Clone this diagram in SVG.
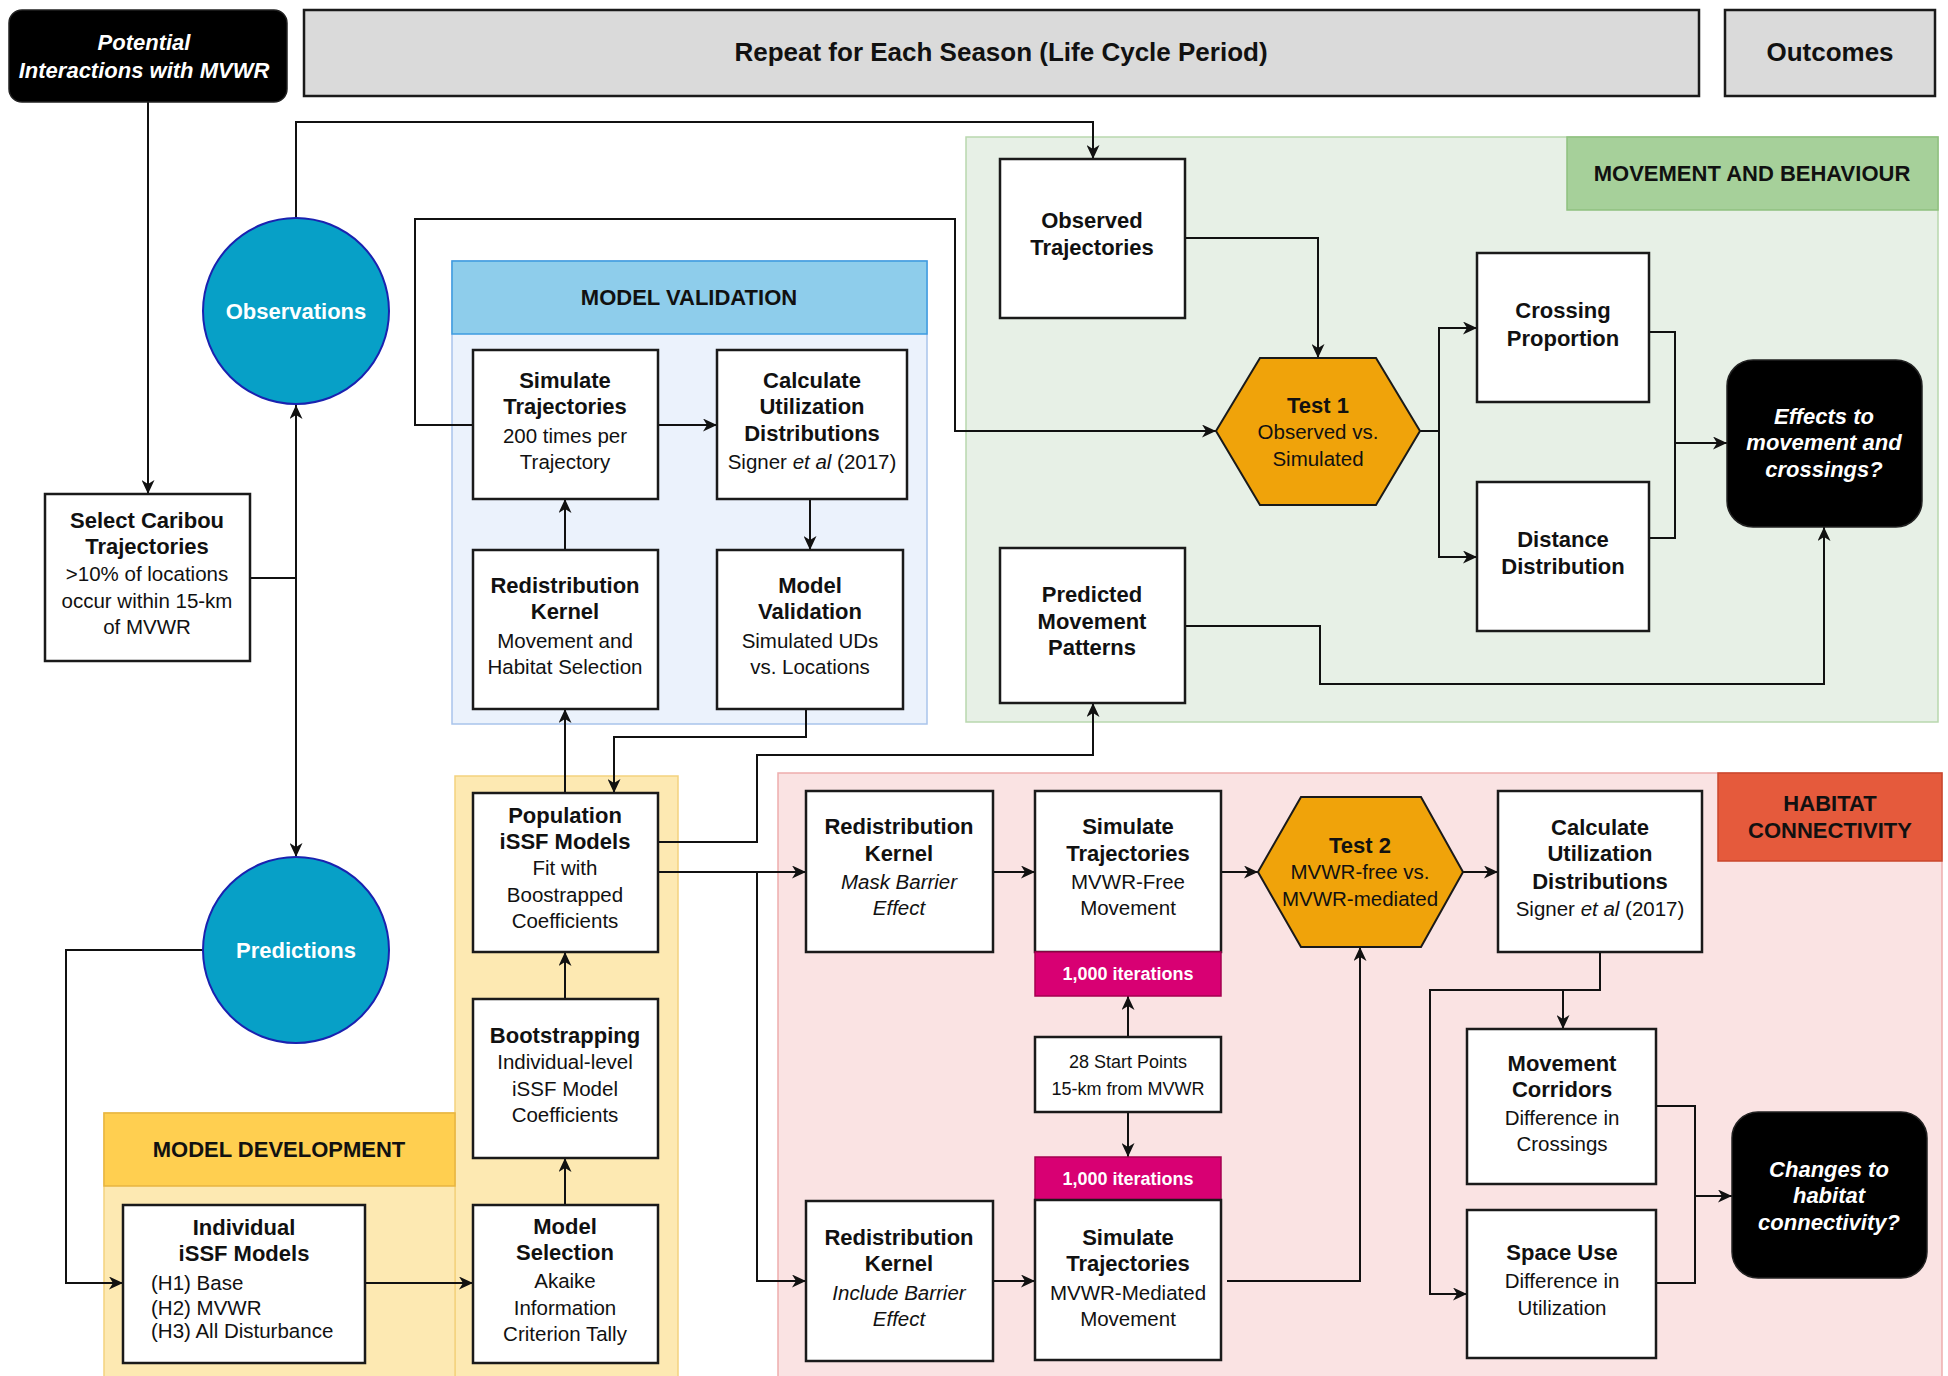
<svg xmlns="http://www.w3.org/2000/svg" width="1948" height="1376" viewBox="0 0 1948 1376">
<defs>
<style>
text{font-family:"Liberation Sans",Arial,sans-serif;text-anchor:middle;dominant-baseline:central;fill:#111;}
.b{font-weight:bold;font-size:22px;}
.r{font-size:20.5px;}
.h{font-weight:bold;font-size:26px;}
.w{fill:#fff;}
.bi{font-weight:bold;font-style:italic;font-size:22px;fill:#fff;}
.i{font-style:italic;}
.s{font-size:18px;}
.box{fill:#fff;stroke:#1a1a1a;stroke-width:2.5;}
.gray{fill:#dadada;stroke:#1a1a1a;stroke-width:2.5;}
.blk{fill:#000;stroke:#222;stroke-width:1.5;}
.circ{fill:#07a0c7;stroke:#1a22b0;stroke-width:2;}
.hex{fill:#f0a30a;stroke:#1a1a1a;stroke-width:2;}
.iter{fill:#d80073;stroke:#a50050;stroke-width:1.5;}
.c{fill:none;stroke:#111;stroke-width:2;}
.a{marker-end:url(#arr);}
</style>
<marker id="arr" markerUnits="userSpaceOnUse" markerWidth="15" markerHeight="13" refX="14" refY="6.5" orient="auto">
<path d="M0,0 L14,6.5 L0,13 L4,6.5 Z" fill="#111"/>
</marker>
</defs>
<rect width="1948" height="1376" fill="#fff"/>

<g id="containers">
<rect x="966" y="137" width="972" height="585" fill="#e7f0e6" stroke="#b9d8ae" stroke-width="1.5"/>
<rect x="1567" y="137" width="371" height="73" fill="#a6d09a" stroke="#8fc07f" stroke-width="1.5"/>
<text class="b" x="1752" y="173">MOVEMENT AND BEHAVIOUR</text>
<rect x="452" y="261" width="475" height="463" fill="#ebf2fc" stroke="#a9c4eb" stroke-width="1.5"/>
<rect x="452" y="261" width="475" height="73" fill="#8ecdeb" stroke="#3d9be0" stroke-width="1.5"/>
<text class="b" x="689" y="297">MODEL VALIDATION</text>
<rect x="455" y="776" width="223" height="602" fill="#fde9b2" stroke="#f3d27f" stroke-width="1.5"/>
<rect x="104" y="1113" width="351" height="265" fill="#fde9b2" stroke="#f3d27f" stroke-width="1.5"/>
<rect x="104" y="1113" width="351" height="73" fill="#ffcf50" stroke="#e8b540" stroke-width="1.5"/>
<text class="b" x="279" y="1149">MODEL DEVELOPMENT</text>
<rect x="778" y="773" width="1164" height="605" fill="#fae3e3" stroke="#eeadad" stroke-width="1.5"/>
<rect x="1718" y="773" width="224" height="88" fill="#e55a3c" stroke="#c9472d" stroke-width="1.5"/>
<text class="b" x="1830" y="803">HABITAT</text>
<text class="b" x="1830" y="830">CONNECTIVITY</text>
</g>

<g id="connectors">
<path class="c a" d="M148,102 V494"/>
<path class="c" d="M250,578 H296"/>
<path class="c a" d="M296,578 V405"/>
<path class="c a" d="M296,578 V857"/>
<path class="c a" d="M296,218 V122 H1093 V159"/>
<path class="c a" d="M473,425 H415 V219 H955 V431 H1216"/>
<path class="c a" d="M658,425 H717"/>
<path class="c a" d="M810,499 V550"/>
<path class="c a" d="M565,550 V499"/>
<path class="c a" d="M565,793 V709"/>
<path class="c a" d="M806,709 V737 H614 V793"/>
<path class="c a" d="M565,999 V952"/>
<path class="c a" d="M565,1205 V1158"/>
<path class="c a" d="M365,1283 H473"/>
<path class="c a" d="M203,950 H66 V1283 H123"/>
<path class="c a" d="M658,842 H757 V755 H1093 V703"/>
<path class="c a" d="M658,872 H806"/>
<path class="c a" d="M757,872 V1281 H806"/>
<path class="c a" d="M993,872 H1035"/>
<path class="c a" d="M993,1281 H1035"/>
<path class="c a" d="M1128,1037 V996"/>
<path class="c a" d="M1128,1112 V1157"/>
<path class="c a" d="M1221,872 H1258"/>
<path class="c a" d="M1227,1281 H1360 V947"/>
<path class="c a" d="M1463,872 H1498"/>
<path class="c a" d="M1600,952 V990 H1563 V1029"/>
<path class="c a" d="M1563,990 H1430 V1294 H1467"/>
<path class="c" d="M1656,1106 H1695 V1283 H1656"/>
<path class="c a" d="M1695,1196 H1732"/>
<path class="c a" d="M1185,238 H1318 V358"/>
<path class="c a" d="M1420,431 H1439 V328 H1477"/>
<path class="c a" d="M1439,431 V557 H1477"/>
<path class="c" d="M1649,332 H1675 V538 H1649"/>
<path class="c a" d="M1675,443 H1727"/>
<path class="c a" d="M1185,626 H1320 V684 H1824 V527"/>
</g>

<g id="potential">
<rect class="blk" x="9" y="10" width="278" height="92" rx="13"/>
<text class="bi" x="144" y="42">Potential</text>
<text class="bi" x="144" y="70">Interactions with MVWR</text>
</g>
<g id="repeat">
<rect class="gray" x="304" y="10" width="1395" height="86"/>
<text class="h" x="1001" y="52">Repeat for Each Season (Life Cycle Period)</text>
</g>
<g id="outcomes">
<rect class="gray" x="1725" y="10" width="210" height="86"/>
<text class="h" x="1830" y="52">Outcomes</text>
</g>

<g id="observations">
<circle class="circ" cx="296" cy="311" r="93"/>
<text class="b w" x="296" y="311">Observations</text>
</g>
<g id="predictions">
<circle class="circ" cx="296" cy="950" r="93"/>
<text class="b w" x="296" y="950">Predictions</text>
</g>

<g id="select-caribou">
<rect class="box" x="45" y="494" width="205" height="167"/>
<text class="b" x="147" y="520">Select Caribou</text>
<text class="b" x="147" y="546">Trajectories</text>
<text class="r" x="147" y="573">&gt;10% of locations</text>
<text class="r" x="147" y="600">occur within 15-km</text>
<text class="r" x="147" y="626">of MVWR</text>
</g>

<g id="simulate-val">
<rect class="box" x="473" y="350" width="185" height="149"/>
<text class="b" x="565" y="380">Simulate</text>
<text class="b" x="565" y="406">Trajectories</text>
<text class="r" x="565" y="435">200 times per</text>
<text class="r" x="565" y="461">Trajectory</text>
</g>
<g id="calc-ud-val">
<rect class="box" x="717" y="350" width="190" height="149"/>
<text class="b" x="812" y="380">Calculate</text>
<text class="b" x="812" y="406">Utilization</text>
<text class="b" x="812" y="433">Distributions</text>
<text class="r" x="812" y="461">Signer <tspan class="i">et al</tspan> (2017)</text>
</g>
<g id="redist-val">
<rect class="box" x="473" y="550" width="185" height="159"/>
<text class="b" x="565" y="585">Redistribution</text>
<text class="b" x="565" y="611">Kernel</text>
<text class="r" x="565" y="640">Movement and</text>
<text class="r" x="565" y="666">Habitat Selection</text>
</g>
<g id="model-validation">
<rect class="box" x="717" y="550" width="186" height="159"/>
<text class="b" x="810" y="585">Model</text>
<text class="b" x="810" y="611">Validation</text>
<text class="r" x="810" y="640">Simulated UDs</text>
<text class="r" x="810" y="666">vs. Locations</text>
</g>

<g id="population">
<rect class="box" x="473" y="793" width="185" height="159"/>
<text class="b" x="565" y="815">Population</text>
<text class="b" x="565" y="841">iSSF Models</text>
<text class="r" x="565" y="867">Fit with</text>
<text class="r" x="565" y="894">Boostrapped</text>
<text class="r" x="565" y="920">Coefficients</text>
</g>
<g id="bootstrapping">
<rect class="box" x="473" y="999" width="185" height="159"/>
<text class="b" x="565" y="1035">Bootstrapping</text>
<text class="r" x="565" y="1061">Individual-level</text>
<text class="r" x="565" y="1088">iSSF Model</text>
<text class="r" x="565" y="1114">Coefficients</text>
</g>
<g id="model-selection">
<rect class="box" x="473" y="1205" width="185" height="158"/>
<text class="b" x="565" y="1226">Model</text>
<text class="b" x="565" y="1252">Selection</text>
<text class="r" x="565" y="1280">Akaike</text>
<text class="r" x="565" y="1307">Information</text>
<text class="r" x="565" y="1333">Criterion Tally</text>
</g>
<g id="individual">
<rect class="box" x="123" y="1205" width="242" height="158"/>
<text class="b" x="244" y="1227">Individual</text>
<text class="b" x="244" y="1253">iSSF Models</text>
<text class="r" x="151" y="1282" style="text-anchor:start">(H1) Base</text>
<text class="r" x="151" y="1307" style="text-anchor:start">(H2) MVWR</text>
<text class="r" x="151" y="1330" style="text-anchor:start">(H3) All Disturbance</text>
</g>

<g id="observed">
<rect class="box" x="1000" y="159" width="185" height="159"/>
<text class="b" x="1092" y="220">Observed</text>
<text class="b" x="1092" y="247">Trajectories</text>
</g>
<g id="predicted">
<rect class="box" x="1000" y="548" width="185" height="155"/>
<text class="b" x="1092" y="594">Predicted</text>
<text class="b" x="1092" y="621">Movement</text>
<text class="b" x="1092" y="647">Patterns</text>
</g>
<g id="test1">
<polygon class="hex" points="1216,431 1260,358 1376,358 1420,431 1376,505 1260,505"/>
<text class="b" x="1318" y="405">Test 1</text>
<text class="r" x="1318" y="431">Observed vs.</text>
<text class="r" x="1318" y="458">Simulated</text>
</g>
<g id="crossing">
<rect class="box" x="1477" y="253" width="172" height="149"/>
<text class="b" x="1563" y="310">Crossing</text>
<text class="b" x="1563" y="338">Proportion</text>
</g>
<g id="distance">
<rect class="box" x="1477" y="482" width="172" height="149"/>
<text class="b" x="1563" y="539">Distance</text>
<text class="b" x="1563" y="566">Distribution</text>
</g>
<g id="effects">
<rect class="blk" x="1727" y="360" width="195" height="167" rx="26"/>
<text class="bi" x="1824" y="416">Effects to</text>
<text class="bi" x="1824" y="442">movement and</text>
<text class="bi" x="1824" y="469">crossings?</text>
</g>

<g id="redist-mask">
<rect class="box" x="806" y="791" width="187" height="161"/>
<text class="b" x="899" y="826">Redistribution</text>
<text class="b" x="899" y="853">Kernel</text>
<text class="r i" x="899" y="881">Mask Barrier</text>
<text class="r i" x="899" y="907">Effect</text>
</g>
<g id="simulate-free">
<rect class="box" x="1035" y="791" width="186" height="161"/>
<text class="b" x="1128" y="826">Simulate</text>
<text class="b" x="1128" y="853">Trajectories</text>
<text class="r" x="1128" y="881">MVWR-Free</text>
<text class="r" x="1128" y="907">Movement</text>
</g>
<g id="iter-top">
<rect class="iter" x="1035" y="952" width="186" height="44"/>
<text class="b s w" x="1128" y="974">1,000 iterations</text>
</g>
<g id="start-points">
<rect class="box" x="1035" y="1037" width="186" height="75"/>
<text class="s" x="1128" y="1062">28 Start Points</text>
<text class="s" x="1128" y="1089">15-km from MVWR</text>
</g>
<g id="iter-bottom">
<rect class="iter" x="1035" y="1157" width="186" height="43"/>
<text class="b s w" x="1128" y="1179">1,000 iterations</text>
</g>
<g id="simulate-mediated">
<rect class="box" x="1035" y="1200" width="186" height="160"/>
<text class="b" x="1128" y="1237">Simulate</text>
<text class="b" x="1128" y="1263">Trajectories</text>
<text class="r" x="1128" y="1292">MVWR-Mediated</text>
<text class="r" x="1128" y="1318">Movement</text>
</g>
<g id="redist-include">
<rect class="box" x="806" y="1201" width="187" height="160"/>
<text class="b" x="899" y="1237">Redistribution</text>
<text class="b" x="899" y="1263">Kernel</text>
<text class="r i" x="899" y="1292">Include Barrier</text>
<text class="r i" x="899" y="1318">Effect</text>
</g>
<g id="test2">
<polygon class="hex" points="1258,872 1301,797 1421,797 1463,872 1421,947 1301,947"/>
<text class="b" x="1360" y="845">Test 2</text>
<text class="r" x="1360" y="871">MVWR-free vs.</text>
<text class="r" x="1360" y="898">MVWR-mediated</text>
</g>
<g id="calc-ud-hab">
<rect class="box" x="1498" y="791" width="204" height="161"/>
<text class="b" x="1600" y="827">Calculate</text>
<text class="b" x="1600" y="853">Utilization</text>
<text class="b" x="1600" y="881">Distributions</text>
<text class="r" x="1600" y="908">Signer <tspan class="i">et al</tspan> (2017)</text>
</g>
<g id="movement-corridors">
<rect class="box" x="1467" y="1029" width="189" height="155"/>
<text class="b" x="1562" y="1063">Movement</text>
<text class="b" x="1562" y="1089">Corridors</text>
<text class="r" x="1562" y="1117">Difference in</text>
<text class="r" x="1562" y="1143">Crossings</text>
</g>
<g id="space-use">
<rect class="box" x="1467" y="1210" width="189" height="148"/>
<text class="b" x="1562" y="1252">Space Use</text>
<text class="r" x="1562" y="1280">Difference in</text>
<text class="r" x="1562" y="1307">Utilization</text>
</g>
<g id="changes">
<rect class="blk" x="1732" y="1112" width="195" height="166" rx="26"/>
<text class="bi" x="1829" y="1169">Changes to</text>
<text class="bi" x="1829" y="1195">habitat</text>
<text class="bi" x="1829" y="1222">connectivity?</text>
</g>
</svg>
